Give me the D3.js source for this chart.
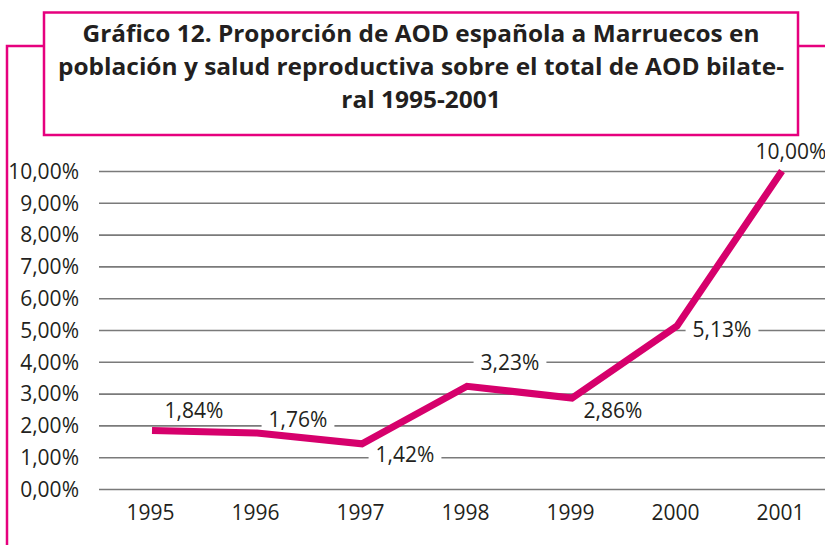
<!DOCTYPE html>
<html>
<head>
<meta charset="utf-8">
<script src="https://cdn.jsdelivr.net/npm/d3@7"></script>
<style>
  html, body { margin: 0; padding: 0; background: #fff; }
  svg { display: block; }
</style>
</head>
<body>
<svg id="chart" width="825" height="545"></svg>
<script>
// ---- data ----
const years = ["1995", "1996", "1997", "1998", "1999", "2000", "2001"];
const values = [0.0184, 0.0176, 0.0142, 0.0323, 0.0286, 0.0513, 0.1000];
const yTicks = [0, 0.01, 0.02, 0.03, 0.04, 0.05, 0.06, 0.07, 0.08, 0.09, 0.10];
const titleLines = [
  "Gráfico 12. Proporción de AOD española a Marruecos en",
  "población y salud reproductiva sobre el total de AOD bilate-",
  "ral 1995-2001"
];

// ---- label placement (layout, relative to point) ----
const labelOffsets = [[42, -20], [41, -13], [43, 11], [43, -24], [41, 13], [45, 4], [9, -19]];

const frame = "#E6007E";
const lineColor = "#D6006C";
const textColor = "#231F20";
const gridColor = "#7a7a7a";
const font = "'Open Sans', 'Noto Sans', 'DejaVu Sans', sans-serif";
const fs = 21;

const locale = d3.formatLocale({ decimal: ",", thousands: ".", grouping: [3], currency: ["", "€"] });
const fmt = locale.format(".2%");

const svg = d3.select("#chart");

// scales
const x = d3.scalePoint().domain(years).range([152, 782]);
const y = d3.scaleLinear().domain([0, 0.10]).range([489, 171]);

// ---- frame & title box ----
svg.append("path")
  .attr("d", "M7,545 L7,46 L44,46 M798,46 L825,46")
  .attr("fill", "none").attr("stroke", frame).attr("stroke-width", 2.5);
svg.append("rect")
  .attr("x", 44).attr("y", 12.5).attr("width", 754).attr("height", 122.5)
  .attr("fill", "#fff").attr("stroke", frame).attr("stroke-width", 2.5);

const titleTargets = [677, 726, null];
const tg = svg.append("g");
const baselines = [42, 75, 108];
let ratio = 1;
titleLines.forEach((t, i) => {
  const el = tg.append("text")
    .attr("x", 421).attr("y", baselines[i])
    .attr("text-anchor", "middle")
    .attr("font-family", font).attr("font-weight", 700)
    .attr("font-size", 24).attr("fill", textColor)
    .text(t);
  const w = el.node().getComputedTextLength();
  if (titleTargets[i]) {
    ratio = titleTargets[i] / w;
    el.attr("textLength", titleTargets[i]).attr("lengthAdjust", "spacingAndGlyphs");
  } else {
    el.attr("textLength", w * ratio).attr("lengthAdjust", "spacingAndGlyphs");
  }
});

// ---- y axis with gridlines ----
const yAxis = d3.axisLeft(y)
  .tickValues(yTicks)
  .tickSize(-(825 - 99))
  .tickPadding(20)
  .tickFormat(fmt);
const gy = svg.append("g").attr("transform", "translate(99,0)").call(yAxis);
gy.select(".domain").remove();
gy.selectAll(".tick line").attr("stroke", gridColor).attr("stroke-width", 1.6);
gy.selectAll(".tick text")
  .attr("font-family", font).attr("font-size", fs).attr("fill", textColor)
  .attr("dy", "0.35em");

// ---- x axis ----
const xAxis = d3.axisBottom(x).tickSize(0).tickPadding(0);
const gx = svg.append("g").attr("transform", "translate(-2,489)").call(xAxis);
gx.select(".domain").remove();
gx.selectAll(".tick text")
  .attr("font-family", font).attr("font-size", fs).attr("fill", textColor)
  .attr("y", 24).attr("dy", "0.35em");

// ---- line ----
const line = d3.line().x((d, i) => x(years[i])).y(d => y(d));
svg.append("path")
  .datum(values)
  .attr("d", line)
  .attr("fill", "none")
  .attr("stroke", lineColor)
  .attr("stroke-width", 7)
  .attr("stroke-linejoin", "miter");

// ---- data labels ----
const lg = svg.append("g");
values.forEach((v, i) => {
  const cx = x(years[i]) + labelOffsets[i][0];
  const cy = y(v) + labelOffsets[i][1];
  const g = lg.append("g");
  const rect = g.append("rect").attr("fill", "#fff");
  const t = g.append("text")
    .attr("x", cx).attr("y", cy)
    .attr("dy", "0.35em")
    .attr("text-anchor", "middle")
    .attr("font-family", font).attr("font-size", fs).attr("fill", textColor)
    .text(fmt(v));
  const w = t.node().getComputedTextLength();
  rect.attr("x", cx - w / 2 - 7).attr("y", cy - 8).attr("width", w + 14).attr("height", 16);
});
</script>
</body>
</html>
